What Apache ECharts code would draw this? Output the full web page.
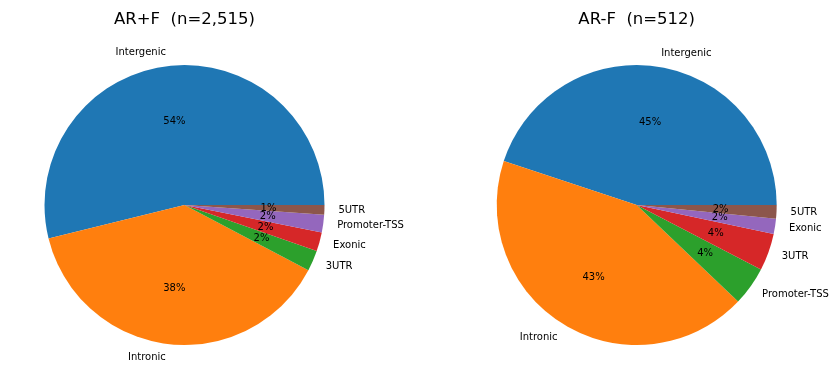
<!DOCTYPE html>
<html>
<head>
<meta charset="utf-8">
<script src="https://cdn.jsdelivr.net/npm/echarts@6/dist/echarts.min.js"></script>
<style>html,body{margin:0;padding:0;background:#fff}#c{width:837px;height:390px}</style>
</head>
<body>
<div id="c"></div>
<script>
const leftTitle = 'AR+F  (n=2,515)';
const leftCategories = ['Intergenic', 'Intronic', '3UTR', 'Exonic', 'Promoter-TSS', '5UTR'];
const leftValues = [1354, 967, 60, 55, 51, 28];

const rightTitle = 'AR-F  (n=512)';
const rightCategories = ['Intergenic', 'Intronic', 'Promoter-TSS', '3UTR', 'Exonic', '5UTR'];
const rightValues = [230, 220, 23, 22, 9, 8];

const sliceColors = ['#1f77b4', '#ff7f0e', '#2ca02c', '#d62728', '#9467bd', '#8c564b'];

const FONT = 'DejaVu Sans';
const R = 140;

function makeData(cats, vals) {
  return cats.map((c, i) => ({ name: c, value: vals[i], itemStyle: { color: sliceColors[i] } }));
}

function pieSeries(cats, vals, center) {
  const total = vals.reduce((a, b) => a + b, 0);
  return [
    {
      type: 'pie',
      center: center,
      radius: [0, R],
      startAngle: 0,
      clockwise: false,
      avoidLabelOverlap: false,
      silent: true,
      animation: false,
      itemStyle: { borderWidth: 0 },
      label: {
        show: true,
        position: 'outside',
        distanceToLabelLine: 0,
        color: '#000',
        fontSize: 10,
        fontFamily: FONT,
        formatter: '{b}'
      },
      labelLine: { show: false, length: R * 0.1, length2: 0 },
      emphasis: { disabled: true },
      data: makeData(cats, vals)
    },
    {
      type: 'pie',
      center: center,
      radius: [0, R * 0.6],
      startAngle: 0,
      clockwise: false,
      avoidLabelOverlap: false,
      silent: true,
      animation: false,
      z: 3,
      itemStyle: { color: 'rgba(0,0,0,0)', borderWidth: 0 },
      label: {
        show: true,
        position: 'outside',
        distanceToLabelLine: 0,
        color: '#000',
        fontSize: 10,
        fontFamily: FONT,
        formatter: p => Math.round(p.value / total * 100) + '%'
      },
      labelLine: { show: false, length: 0, length2: 0 },
      labelLayout: () => ({ align: 'center' }),
      emphasis: { disabled: true },
      data: cats.map((c, i) => ({ name: c, value: vals[i] }))
    }
  ];
}

const titleStyle = { fontSize: 16.5, fontWeight: 'normal', color: '#000', fontFamily: FONT, lineHeight: 16 };

const chart = echarts.init(document.getElementById('c'), null, { renderer: 'canvas' });
chart.setOption({
  animation: false,
  backgroundColor: '#fff',
  title: [
    { text: leftTitle, left: 184.5, top: 12, padding: 0, textAlign: 'center', textStyle: titleStyle },
    { text: rightTitle, left: 636.7, top: 12, padding: 0, textAlign: 'center', textStyle: titleStyle }
  ],
  series: [
    ...pieSeries(leftCategories, leftValues, [184.5, 205]),
    ...pieSeries(rightCategories, rightValues, [636.7, 205])
  ]
});
</script>
</body>
</html>
